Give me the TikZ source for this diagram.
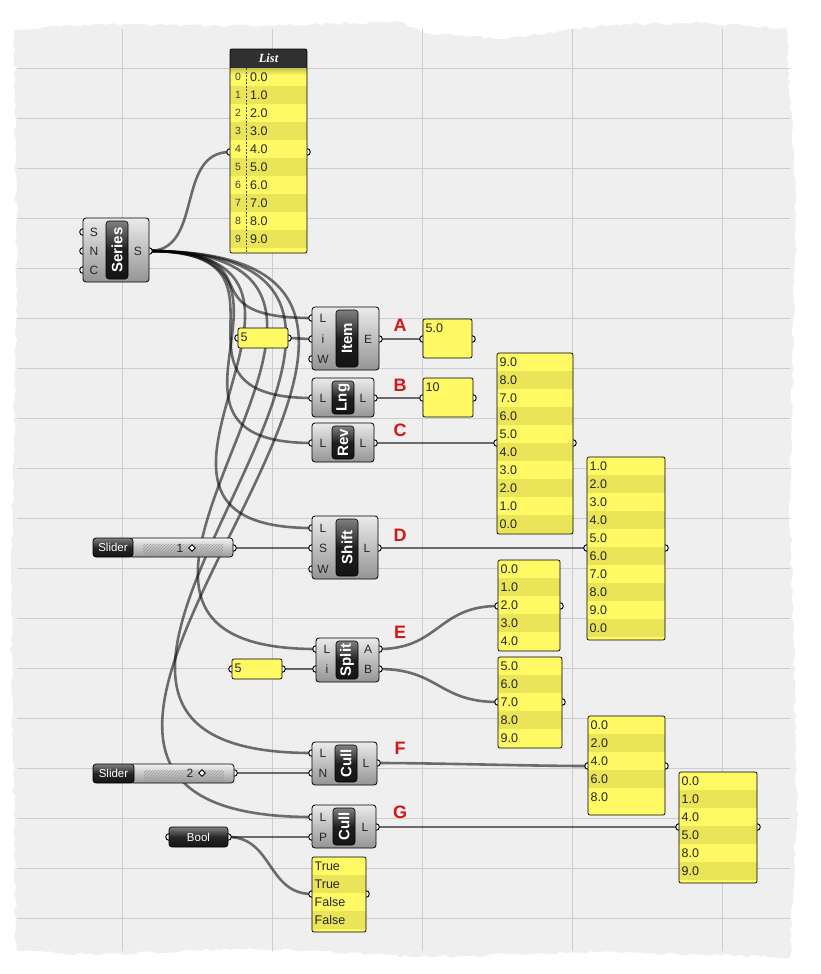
\documentclass[tikz,border=0pt]{standalone}
\usepackage{fontspec}
\setmainfont{Liberation Sans}
\newfontfamily\headfont{Liberation Serif}
\usetikzlibrary{fit,backgrounds,patterns,decorations.pathmorphing}

\pgfdeclarelayer{wirelayer}
\pgfdeclarelayer{griplayer}
\pgfsetlayers{background,wirelayer,griplayer,main}

\definecolor{canvas}{RGB}{239,239,239}
\definecolor{gridline}{RGB}{205,205,205}
\definecolor{panellight}{RGB}{255,250,100}
\definecolor{paneldark}{RGB}{233,228,88}
\definecolor{tagred}{RGB}{214,22,22}
\definecolor{headgray}{RGB}{48,48,48}

\tikzset{
  comp/.style={draw=black, line width=0.8pt, rounded corners=3pt, inner sep=0pt,
    top color=white!92!black, bottom color=white!58!black},
  pill/.style={draw=black, line width=0.6pt, rounded corners=3pt, inner sep=0pt,
    top color=black!50, bottom color=black!92, middle color=black!88},
  pilltext/.style={rotate=90, text=white, font=\bfseries\fontsize{15}{15}\selectfont, inner sep=0pt},
  darkpill/.style={draw=black, line width=0.7pt, rounded corners=3pt, inner sep=0pt,
    top color=black!50, bottom color=black!92, middle color=black!85},
  darklbl/.style={text=white, font=\fontsize{11.5}{12}\selectfont, inner sep=0pt},
  sliderbar/.style={draw=black, line width=0.7pt, rounded corners=3pt, inner sep=0pt,
    top color=white!95!black, bottom color=white!60!black},
  grip/.style={draw=black, line width=0.9pt, fill=white},
  portlbl/.style={font=\fontsize{12}{12}\selectfont, inner sep=0pt, text=black!85},
  wire/.style={draw=black, draw opacity=0.55, line width=2.6pt},
  panel/.style={fill=panellight, inner sep=0pt, rounded corners=2pt},
  panelline/.style={draw=black, line width=0.7pt, rounded corners=2pt},
  paneltext/.style={anchor=west, inner sep=0pt, font=\fontsize{12.5}{13}\selectfont, text=black!85},
  tag/.style={text=tagred, font=\bfseries\fontsize{18}{18}\selectfont, inner sep=0pt}
}

% grip = small half circle a wire plugs into
\newcommand\grip[3]{\coordinate (#1) at (#2,#3);
  \begin{pgfonlayer}{griplayer}\draw[grip] (#1) circle (3.3);\end{pgfonlayer}}
\newcommand\inport[4]{\grip{#1}{#2}{#3}\node[portlbl] (#1-lbl) at (#2+11,#3) {#4};}
\newcommand\outport[4]{\grip{#1}{#2}{#3}\node[portlbl] (#1-lbl) at (#2-11,#3) {#4};}
% component: name, x1,y1,x2,y2, label, pill x1, pill x2
\newcommand\ghcomp[8]{%
  \node[comp, fit={(#2,#3) (#4,#5)}] (#1) {};
  \node[pill, fit={(#7,#3+3) (#8,#5-3)}] (#1-pill) {};
  \begin{scope}
    \clip[rounded corners=3pt] (#7,#3+3) rectangle (#8,#5-3);
    \node[pilltext] (#1-name) at (#1-pill) {#6};
  \end{scope}}
% panel: name, x1,y1,x2,y2, values, grip y
\newcommand\ghpanel[7]{%
  \node[panel, fit={(#2,#3) (#4,#5)}] (#1) {};
  \begin{scope}
    \clip[rounded corners=2pt] (#2,#3) rectangle (#4,#5);
    \foreach \v [count=\i from 0] in {#6} {
      \ifodd\i\relax \fill[paneldark] (#2,#3+18*\i) rectangle (#4,#3+18+18*\i); \fi
      \node[paneltext] (#1-\i) at (#2+2.5,#3+9+18*\i) {\v};
    }
  \end{scope}
  \draw[panelline] (#2,#3) rectangle (#4,#5);
  \grip{#1-in}{#2}{#7}
  \grip{#1-out}{#4}{#7}}
% slider: name, x1,y1, xm, x2,y2, value, value x, mid y
\newcommand\ghslider[9]{%
  \grip{#1-out}{#5}{#9}
  \node[sliderbar, fit={(#4-4,#3) (#5,#6)}] (#1-bar) {};
  \fill[pattern=north east lines, pattern color=black!40] (#4+10,#3+6) rectangle (#5-10,#6-2);
  \node[darkpill, fit={(#2,#3) (#4,#6)}] (#1-tag) {};
  \node[darklbl] (#1-tagtext) at (#1-tag) {Slider};
  \node[portlbl] (#1-val) at (#8,#9) {#7};
  \draw[grip, line width=0.8pt] (#8+12,#9-3.2) -- ++(3.2,3.2) -- ++(-3.2,3.2) -- ++(-3.2,-3.2) -- cycle;}
\newcommand\wire[3]{\draw[wire] (#1) .. controls +(#3,0) and +(-#3,0) .. (#2);}

\begin{document}
\begin{tikzpicture}[x=1pt, y=-1pt]
\useasboundingbox (0,0) rectangle (820,974);
\pgfmathsetseed{11}

% torn canvas with grid
\begin{pgfonlayer}{background}
\fill[white] (0,0) rectangle (820,974);
\fill[canvas, decorate, decoration={random steps, segment length=5pt, amplitude=1.6pt}]
  (14,30) -- (100,24) -- (230,26) -- (400,22) -- (425,33) -- (500,39) -- (555,33)
  -- (600,25) -- (700,23) -- (786,28) -- (796,200) -- (790,500) -- (797,800)
  -- (790,957) -- (600,952) -- (420,957) -- (250,948) -- (100,955) -- (16,950)
  -- (11,600) -- (17,300) -- cycle;
\begin{scope}
  \clip (17,30) rectangle (790,950);
  \foreach \gy in {68,118,...,918} \draw[gridline, line width=0.8pt] (0,\gy) -- (820,\gy);
  \foreach \gx in {122,272,...,722} \draw[gridline, line width=0.8pt] (\gx,0) -- (\gx,974);
\end{scope}
\end{pgfonlayer}

% Series
\ghcomp{ser}{83}{218}{149}{282}{Series}{106}{128}
\inport{ser-Si}{83}{232}{S}
\inport{ser-N}{83}{251}{N}
\inport{ser-C}{83}{270}{C}
\outport{ser-S}{149}{251}{S}

% List panel
\node[panel, fit={(230,49) (307,253)}] (list) {};
\begin{scope}
  \clip[rounded corners=2pt] (230,49) rectangle (307,253);
  \foreach \i in {1,3,...,9} \fill[paneldark] (230,68+18*\i) rectangle (307,86+18*\i);
  \fill[top color=paneldark!85!black, bottom color=panellight, draw=none] (230,68) rectangle (307,75);
  \fill[headgray] (230,49) rectangle (307,68);
  \foreach \i in {0,...,9} {
    \node[font=\fontsize{10.5}{10.5}\selectfont, text=black!75, inner sep=0pt] (list-idx-\i) at (238,77+18*\i) {\i};
    \node[paneltext] (list-\i) at (250,77+18*\i) {\i.0};
  }
\end{scope}
\draw[dash pattern=on 2pt off 1.5pt, black!70, line width=0.5pt] (246,68) -- (246,253);
\node[text=white, font=\headfont\bfseries\itshape\fontsize{12.5}{13}\selectfont, inner sep=0pt] (list-head) at (268.5,58.5) {List};
\draw[panelline] (230,49) rectangle (307,253);
\grip{list-in}{230}{152}
\grip{list-out}{307}{152}

% A: Item
\ghpanel{five1}{238}{328}{288}{348}{5}{338}
\ghcomp{item}{312}{307}{379}{370}{Item}{336}{358}
\inport{item-L}{312}{318}{L}
\inport{item-i}{312}{339}{i}
\inport{item-W}{312}{359}{W}
\outport{item-E}{379}{339}{E}
\node[tag] (tagA) at (400,325) {A};
\ghpanel{itemout}{423}{319}{472}{358}{5.0}{339}

% B: Lng
\ghcomp{lng}{312}{378}{374}{417}{Lng}{332}{354}
\inport{lng-L}{312}{398}{L}
\outport{lng-out}{374}{398}{L}
\node[tag] (tagB) at (400,385) {B};
\ghpanel{lngout}{423}{378}{473}{417}{10}{398}

% C: Rev
\ghcomp{rev}{312}{423}{374}{462}{Rev}{332}{354}
\inport{rev-L}{312}{443}{L}
\outport{rev-out}{374}{443}{L}
\node[tag] (tagC) at (400,430) {C};
\ghpanel{revout}{497}{353}{573}{534}{9.0,8.0,7.0,6.0,5.0,4.0,3.0,2.0,1.0,0.0}{443}

% D: Shift
\ghslider{sl1}{93}{538}{133}{233}{557}{1}{180}{548}
\ghcomp{shift}{312}{516}{378}{579}{Shift}{336}{358}
\inport{shift-L}{312}{528}{L}
\inport{shift-S}{312}{548}{S}
\inport{shift-W}{312}{569}{W}
\outport{shift-out}{378}{548}{L}
\node[tag] (tagD) at (400,535) {D};
\ghpanel{shiftout}{587}{457}{665}{640}{1.0,2.0,3.0,4.0,5.0,6.0,7.0,8.0,9.0,0.0}{548}

% E: Split
\ghpanel{five2}{232}{659}{282}{679}{5}{669}
\ghcomp{split}{316}{638}{379}{682}{Split}{336}{358}
\inport{split-L}{316}{649}{L}
\inport{split-i}{316}{669}{i}
\outport{split-A}{379}{649}{A}
\outport{split-B}{379}{669}{B}
\node[tag] (tagE) at (400,632) {E};
\ghpanel{splitA}{498}{560}{560}{651}{0.0,1.0,2.0,3.0,4.0}{606}
\ghpanel{splitB}{498}{657}{562}{748}{5.0,6.0,7.0,8.0,9.0}{702}

% F: Cull by pattern
\ghslider{sl2}{93}{764}{134}{234}{783}{2}{190}{773}
\ghcomp{cullF}{312}{742}{377}{785}{Cull}{335}{357}
\inport{cullF-L}{312}{753}{L}
\inport{cullF-N}{312}{773}{N}
\outport{cullF-out}{377}{763}{L}
\node[tag] (tagF) at (400,748) {F};
\ghpanel{cullFout}{588}{716}{665}{815}{0.0,2.0,4.0,6.0,8.0}{766}

% G: Cull with booleans
\grip{bool-in}{169}{837}
\grip{bool-out}{228}{837}
\node[darkpill, fit={(169,827) (228,847)}] (bool) {};
\node[darklbl] (bool-text) at (bool) {Bool};
\ghcomp{cullG}{312}{805}{376}{848}{Cull}{333}{355}
\inport{cullG-L}{312}{817}{L}
\inport{cullG-P}{312}{837}{P}
\outport{cullG-out}{376}{827}{L}
\node[tag] (tagG) at (400,812) {G};
\ghpanel{boolout}{312}{857}{366}{932}{True,True,False,False}{894}
\ghpanel{cullGout}{679}{772}{757}{883}{0.0,1.0,4.0,5.0,8.0,9.0}{827}

% wires
\begin{pgfonlayer}{wirelayer}
\wire{ser-S}{list-in}{55}
\wire{ser-S}{item-L}{132}
\wire{ser-S}{lng-L}{165}
\wire{ser-S}{rev-L}{189}
\wire{ser-S}{shift-L}{241}
\wire{ser-S}{split-L}{324}
\wire{ser-S}{cullF-L}{396}
\wire{ser-S}{cullG-L}{442}
\wire{five1-out}{item-i}{10}
\wire{item-E}{itemout-in}{15}
\wire{lng-out}{lngout-in}{15}
\wire{rev-out}{revout-in}{40}
\wire{sl1-out}{shift-S}{30}
\wire{shift-out}{shiftout-in}{60}
\wire{split-A}{splitA-in}{60}
\wire{split-B}{splitB-in}{60}
\wire{five2-out}{split-i}{10}
\wire{cullF-out}{cullFout-in}{60}
\wire{sl2-out}{cullF-N}{30}
\wire{cullG-out}{cullGout-in}{100}
\wire{bool-out}{cullG-P}{30}
\wire{bool-out}{boolout-in}{45}
\end{pgfonlayer}
\end{tikzpicture}
\end{document}
